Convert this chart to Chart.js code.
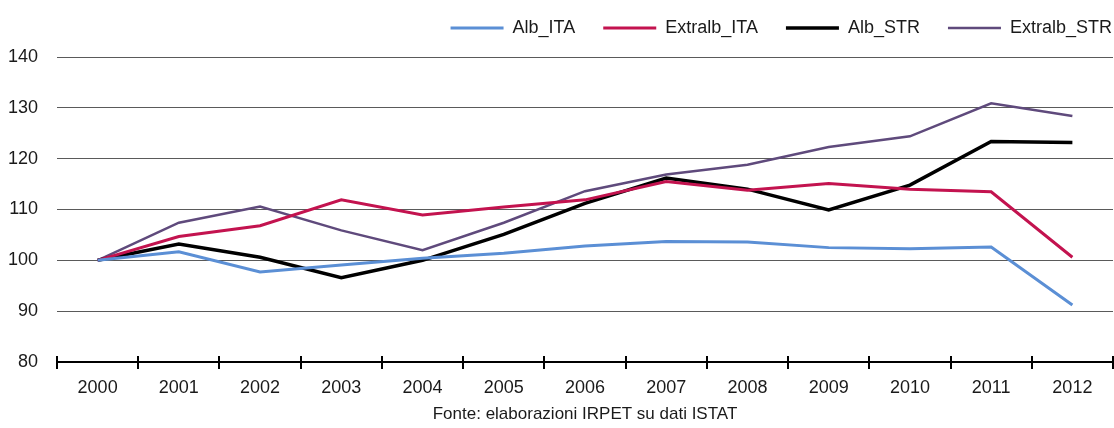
<!DOCTYPE html>
<html>
<head>
<meta charset="utf-8">
<script src="https://cdn.jsdelivr.net/npm/chart.js@4/dist/chart.umd.min.js"></script>
<style>
  html, body { margin: 0; padding: 0; background: #fff; }
  #wrap { width: 1114px; height: 428px; }
</style>
</head>
<body>
<div id="wrap"><canvas id="ch"></canvas></div>
<script>
'use strict';

// data
const years = ['2000','2001','2002','2003','2004','2005','2006','2007','2008','2009','2010','2011','2012'];
const albIta      = [100, 101.7,  97.7,  99.1, 100.4, 101.4, 102.8, 103.7, 103.6, 102.5, 102.3, 102.6,  91.2];
const extralbIta  = [100, 104.7, 106.8, 111.9, 108.9, 110.5, 111.9, 115.5, 113.8, 115.1, 114.0, 113.5, 100.6];
const albStr      = [100, 103.2, 100.6,  96.6, 100.0, 105.1, 111.2, 116.2, 114.0, 109.9, 114.8, 123.4, 123.2];
const extralbStr  = [100, 107.4, 110.6, 105.9, 102.0, 107.4, 113.6, 116.9, 118.8, 122.3, 124.4, 130.9, 128.4];
const yTicks = [80, 140, 10]; // min, max, step
const sourceNote = 'Fonte: elaborazioni IRPET su dati ISTAT';

Chart.defaults.font.family = "'Liberation Sans', Arial, sans-serif";
Chart.defaults.font.size = 18;
Chart.defaults.color = '#1a1a1a';

// small tick marks sticking up above the category axis,
// extra room under the legend, legend pushed to the right edge
const axisExtras = {
  id: 'axisExtras',
  afterInit(chart) {
    const lg = chart.legend;
    if (!lg) return;
    const fit = lg.fit;
    lg.fit = function() { fit.call(this); this.height += 10; };
  },
  afterLayout(chart) {
    if (chart.legend) chart.legend.right += 27;
  },
  afterDraw(chart) {
    const x = chart.scales.x, ctx = chart.ctx;
    ctx.save();
    ctx.strokeStyle = '#000';
    ctx.lineWidth = 2;
    for (let i = 0; i <= years.length; i++) {
      const px = Math.round(x.getPixelForValue(i - 0.5));
      ctx.beginPath();
      ctx.moveTo(px, x.top - 6);
      ctx.lineTo(px, x.top);
      ctx.stroke();
    }
    ctx.restore();
  }
};

const mk = (label, data, color, w) => ({
  label, data, borderColor: color, backgroundColor: color,
  borderWidth: w, pointRadius: 0, pointHoverRadius: 0, tension: 0, fill: false,
  pointStyle: 'line'
});

new Chart(document.getElementById('ch'), {
  type: 'line',
  data: {
    labels: years,
    datasets: [
      mk('Alb_ITA', albIta, '#5b8fd5', 3),
      mk('Extralb_ITA', extralbIta, '#c3134f', 3),
      mk('Alb_STR', albStr, '#000000', 3.5),
      mk('Extralb_STR', extralbStr, '#5f4a7c', 2.5)
    ]
  },
  options: {
    responsive: true, maintainAspectRatio: false, animation: false,
    layout: { padding: { top: -9, right: 1, left: 0, bottom: 3 } },
    plugins: {
      legend: {
        align: 'end',
        labels: {
          usePointStyle: true, pointStyleWidth: 53, boxHeight: 3,
          padding: 28, color: '#1a1a1a', font: { size: 18 }
        }
      },
      tooltip: { enabled: false }
    },
    scales: {
      x: {
        offset: true,
        grid: { offset: true, drawOnChartArea: false, color: '#000', lineWidth: 2, tickLength: 7 },
        border: { color: '#000', width: 2 },
        ticks: { padding: 8, color: '#1a1a1a', maxRotation: 0 },
        title: { display: true, text: sourceNote, color: '#1a1a1a', font: { size: 17 }, padding: { top: -2, bottom: 0 } }
      },
      y: {
        min: yTicks[0], max: yTicks[1],
        ticks: { stepSize: yTicks[2], padding: 19, color: '#1a1a1a' },
        grid: { color: '#5a5a5a', lineWidth: 1, drawTicks: false },
        border: { display: false },
        afterFit(s) { s.width = 57; }
      }
    }
  },
  plugins: [axisExtras]
});
</script>
</body>
</html>
